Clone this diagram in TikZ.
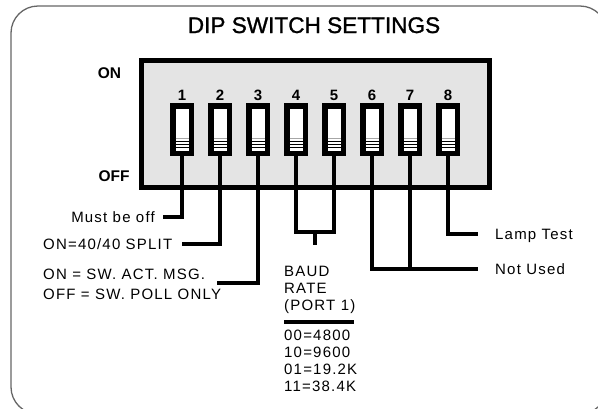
\documentclass[tikz,border=0pt]{standalone}
\usepackage{fontspec}
\setmainfont{Liberation Sans}
\newfontfamily\labfont[LetterSpace=8]{Liberation Sans}
\newfontfamily\titlefont[FakeBold=1.2]{Liberation Sans}
\usetikzlibrary{calc}
\definecolor{bodygray}{HTML}{E4E4E4}
\definecolor{framegray}{HTML}{666666}
\begin{document}
\begin{tikzpicture}[x=1pt,y=-1pt,
  frame/.style={draw=framegray,line width=1.3pt,rounded corners=27pt},
  dipbody/.style={draw=black,fill=bodygray,line width=5pt,minimum width=348pt,minimum height=127pt,inner sep=0pt},
  swbox/.style={draw=black,fill=white,line width=5.5pt,minimum width=18.5pt,minimum height=47.5pt,inner sep=0pt},
  numlab/.style={font=\bfseries\fontsize{15}{16}\selectfont,inner sep=0pt,anchor=base},
  sidelab/.style={font=\bfseries\fontsize{15.5}{17}\selectfont,inner sep=0pt,anchor=base},
  lab/.style={font=\labfont\fontsize{15}{17}\selectfont,text height=10.5pt,text depth=0pt,inner ysep=0pt},
  blab/.style={font=\labfont\fontsize{15}{17}\selectfont,inner sep=0pt,anchor=base west},
  leg/.style={draw=black,line width=3.6pt},
]
\useasboundingbox (0,0) rectangle (598,408);
\begin{scope}
\clip (0,0) rectangle (598,408);
\draw[frame] (11,6) rectangle (607,414);
\end{scope}

\node[font=\titlefont\fontsize{22.6}{25}\selectfont,inner sep=0pt,anchor=base] (title) at (314,33) {DIP SWITCH SETTINGS};

\node[dipbody] (dip) at (315.5,124) {};
\node[sidelab] (on) at (109.5,78.3) {ON};
\node[sidelab] (off) at (114,181) {OFF};

\foreach \i in {1,...,8}{
  \node[swbox] (s\i) at ({182+38*(\i-1)},129.5) {};
  \node[numlab] (n\i) at ({182+38*(\i-1)},100.5) {\i};
  \draw[gray!70,line width=1.1pt] ($(s\i.center)+(-6.5,9)$) -- ++(13,0);
  \foreach \dy in {12,15,18}{
    \draw[black,line width=1.1pt] ($(s\i.center)+(-6.5,\dy)$) -- ++(13,0);
  }
}

% labels
\node[lab,anchor=east,inner xsep=8pt] (l1) at (163,217) {Must be off};
\node[lab,anchor=west,inner xsep=0pt] (l2) at (43,244) {ON=40/40 SPLIT};
\node[lab,anchor=west,inner xsep=0pt] (l3a) at (43,274) {ON = SW. ACT. MSG.};
\node[lab,anchor=west,inner xsep=0pt] (l3b) at (43,294.5) {OFF = SW. POLL ONLY};
\coordinate (c3) at (217,283);
\node[lab,anchor=west,inner xsep=17pt] (lt) at (478,234) {Lamp Test};
\node[lab,anchor=west,inner xsep=17pt] (nu) at (478,269) {Not Used};

\draw[leg] (s1.south) |- (l1.east);
\draw[leg] (s2.south) |- (l2.east -| 182,0);
\draw[leg] (s3.south) |- (c3);
\coordinate (j45) at (315,232);
\coordinate (j45b) at (315,245);
\draw[leg] (s4.south) |- (j45) -| (s5.south);
\draw[leg] (j45) -- (j45b);
\draw[leg] (s6.south) |- (nu.west);
\draw[leg] (s7.south) -- (s7.south |- nu.west);
\draw[leg] (s8.south) |- (lt.west);

% baud rate block
\node[blab] (b1) at (284,276.7) {BAUD};
\node[blab] (b2) at (284,293.3) {RATE};
\node[blab] (b3) at (284,310) {(PORT 1)};
\draw[line width=4pt] (284,322) -- (354,322);
\node[blab] (r1) at (284,340) {00=4800};
\node[blab] (r2) at (284,357.5) {10=9600};
\node[blab] (r3) at (284,374) {01=19.2K};
\node[blab] (r4) at (284,391) {11=38.4K};
\end{tikzpicture}
\end{document}
